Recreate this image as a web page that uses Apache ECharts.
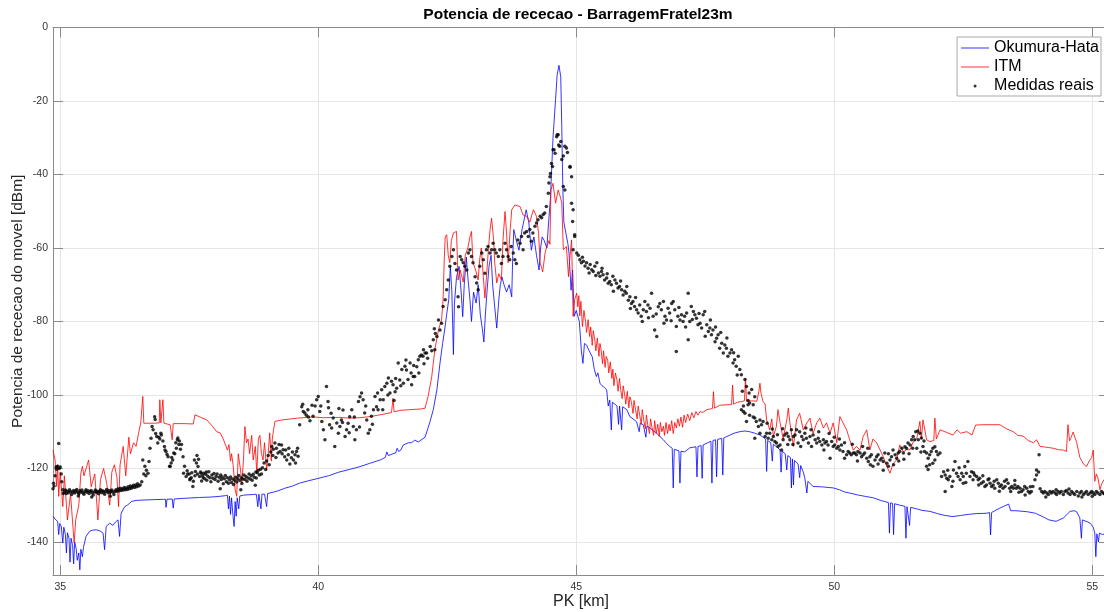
<!DOCTYPE html>
<html><head><meta charset="utf-8">
<script src="https://cdn.jsdelivr.net/npm/echarts@6/dist/echarts.min.js"></script>
<style>html,body{margin:0;padding:0;background:#fff}#c{width:1104px;height:612px}</style>
</head><body><div id="c"></div>
<script>
const titleText = 'Potencia de rececao - BarragemFratel23m';
const xName = 'PK [km]';
const yName = 'Potencia de rececao do movel [dBm]';
const seriesNames = ['Okumura-Hata', 'ITM', 'Medidas reais'];
const xTicks = [35, 40, 45, 50, 55];
const yTicks = [-140, -120, -100, -80, -60, -40, -20, 0];

const okumuraHata = [
[34.86,-133],[34.9,-133.8],[34.95,-134.4],[34.97,-138],[34.99,-135],[35.02,-135.7],[35.05,-140.3],[35.07,-136],[35.1,-138],[35.12,-143],[35.14,-137.5],[35.17,-139],[35.19,-145.5],[35.21,-139],[35.24,-141],[35.26,-146],[35.28,-140],[35.31,-142],[35.33,-145],[35.36,-143],[35.38,-147.6],[35.4,-142],[35.43,-144],[35.45,-141.5],[35.47,-141.3],[35.5,-138.5],[35.57,-137.1],[35.63,-136.8],[35.7,-136.7],[35.77,-137],[35.83,-137.6],[35.86,-142.1],[35.89,-135.8],[35.96,-134.9],[36.02,-135.5],[36.07,-134.6],[36.12,-134],[36.15,-138.5],[36.18,-132.2],[36.25,-130.4],[36.31,-129.9],[36.38,-129],[36.47,-128.7],[36.6,-128.6],[36.8,-128.5],[37.0,-128.4],[37.04,-128.4],[37.05,-130.6],[37.07,-128.4],[37.17,-128.3],[37.19,-130.8],[37.21,-128.3],[37.44,-128.1],[37.7,-127.9],[37.9,-127.8],[38.09,-127.6],[38.2,-127.4],[38.24,-127.3],
[38.26,-131],[38.28,-127.5],[38.3,-132.5],[38.32,-128],[38.35,-133.1],[38.37,-135.8],[38.39,-129],[38.41,-133],[38.43,-128],[38.46,-131],[38.48,-127.5],[38.55,-127.3],[38.6,-127.2],[38.75,-127.1],[38.8,-127],[38.83,-130.4],[38.85,-127],[38.89,-131],[38.91,-127],[38.96,-127],[39.0,-130.4],[39.02,-126.8],[39.06,-126.7],[39.2,-126.2],[39.35,-125.4],[39.5,-124.8],[39.64,-124],[39.8,-123.4],[40.0,-122.7],[40.2,-122],[40.4,-121],[40.6,-120.3],[40.81,-119.5],[41.0,-118.6],[41.2,-117.7],[41.3,-117],[41.33,-115.5],[41.36,-116.5],[41.45,-116],[41.5,-115.8],[41.53,-114.5],[41.56,-115.4],[41.6,-115],[41.65,-113.6],[41.68,-113.8],[41.75,-113],[41.81,-113],[41.87,-112.3],[41.94,-112.8],
[41.97,-113],[42.07,-111.5],[42.16,-107.6],[42.23,-104],[42.3,-98.6],[42.36,-91.3],[42.41,-86],[42.45,-82.3],[42.49,-78],[42.53,-74],[42.56,-65],[42.59,-72],[42.62,-89],[42.64,-75],[42.68,-68],[42.73,-65],[42.77,-72],[42.8,-78.7],[42.83,-70],[42.87,-62.5],[42.9,-68],[42.94,-74],[42.97,-80],[43.01,-72],[43.06,-75],[43.1,-70],[43.14,-78],[43.18,-82],[43.21,-85.6],[43.24,-78],[43.27,-72],[43.31,-65],[43.35,-62],[43.38,-70],[43.42,-76],[43.46,-81.8],[43.5,-74],[43.53,-70],[43.56,-67.9],[43.6,-70],[43.65,-72],[43.7,-70],[43.75,-73.3],[43.77,-62],[43.79,-55],[43.84,-58],[43.89,-60.6],[43.95,-55],[44.03,-49.6],[44.08,-53],[44.13,-60.6],[44.18,-57],[44.23,-62],[44.28,-66],[44.31,-60],[44.34,-57],[44.38,-58],[44.43,-60],[44.47,-52],[44.5,-46.5],[44.55,-30],[44.6,-19.5],[44.63,-13],[44.665,-10.3],[44.7,-13.4],[44.72,-27],[44.74,-43.3],[44.76,-53],[44.8,-56],[44.84,-59],[44.86,-61.4],[44.9,-71.5],[44.93,-66],[44.96,-78.6],
[45.0,-77],[45.03,-77],[45.06,-80],[45.1,-88],[45.13,-91.4],[45.16,-86],[45.2,-86.4],[45.25,-88],[45.31,-89.6],[45.35,-93],[45.39,-95],[45.42,-94],[45.46,-96.8],[45.5,-97.5],[45.55,-98],[45.59,-98.6],[45.62,-103],[45.65,-101.4],[45.68,-109.5],[45.7,-102],[45.75,-102.5],[45.79,-103],[45.82,-108],[45.84,-103],[45.88,-109.5],[45.9,-103.2],[45.98,-104],[46.04,-105.9],[46.1,-106.5],[46.17,-107.3],[46.22,-110],[46.24,-107.7],[46.3,-108.1],[46.35,-111.5],[46.37,-108.5],[46.43,-109],[46.5,-109.8],[46.56,-110.4],[46.62,-111.3],[46.69,-112.2],[46.75,-113.2],[46.81,-114],[46.86,-114.5],[46.88,-125.3],[46.9,-114.8],[46.99,-115.2],[47.01,-124],[47.03,-115.3],[47.1,-115.5],[47.2,-114.4],[47.32,-114.1],[47.34,-122.3],[47.36,-114],[47.42,-113.8],[47.44,-122.7],[47.46,-113.6],[47.55,-113],[47.61,-112.6],[47.63,-124],[47.65,-112.4],[47.7,-112.2],[47.72,-122.3],[47.74,-112.1],[47.82,-111.8],[47.84,-121.8],[47.86,-111.7],[47.98,-110.9],[48.08,-110.3],[48.17,-110],[48.27,-109.8],[48.36,-110],[48.46,-110.4],[48.56,-110.9],[48.62,-111.5],[48.67,-112],[48.69,-120.8],[48.71,-112.4],[48.77,-113],[48.8,-118],[48.82,-113.4],[48.9,-114.3],[48.95,-115],[48.97,-121],[48.99,-115.3],[49.05,-116],[49.08,-120.4],[49.1,-116.5],[49.15,-117],[49.17,-125.3],[49.19,-117.4],[49.21,-124.5],[49.23,-117.8],[49.3,-118.8],[49.33,-122.5],[49.35,-119.2],[49.4,-121],[49.43,-122.6],[49.45,-122.7],[49.47,-126.7],[49.49,-123.5],[49.59,-124.9],[49.75,-125],[49.98,-125.3],[50.1,-125.8],[50.2,-126.4],[50.3,-126.7],[50.45,-127.2],[50.6,-127.6],[50.76,-128],[50.9,-128.7],[51.0,-129.1],[51.05,-129.3],[51.07,-137.6],[51.09,-129.4],[51.13,-129.5],[51.15,-138],[51.17,-129.6],[51.27,-130],[51.37,-130.3],[51.39,-139],[51.41,-130.4],[51.44,-130.5],[51.46,-135.5],[51.48,-130.6],[51.6,-131],[51.7,-131.4],[51.86,-131.7],[52.0,-132.3],[52.15,-132.8],[52.3,-133.1],[52.45,-132.8],[52.6,-132.5],[52.75,-132.3],[52.95,-132.2],[53.01,-132],[53.03,-138.1],[53.05,-132],[53.1,-131.6],[53.21,-130.8],[53.3,-130.2],[53.38,-129.7],[53.4,-129.4],[53.42,-131.5],[53.5,-131.5],[53.6,-131.6],[53.75,-131.8],[53.9,-132.2],[54.05,-133.2],[54.16,-134],[54.3,-134.4],[54.44,-133.5],[54.57,-131.7],[54.65,-131.5],[54.7,-131.8],[54.76,-133.5],[54.79,-139],[54.81,-134],[54.9,-134.5],[54.96,-134.9],[55.02,-136],[55.05,-137.6],[55.07,-144],[55.09,-137.8],[55.12,-140],[55.14,-137.6],[55.2,-138],[55.32,-137.5]
];

const itm = [
[34.86,-115],[34.9,-117.7],[34.93,-124.9],[34.95,-119],[34.97,-127.6],[35.0,-121],[35.05,-130.4],[35.08,-122],[35.14,-134],[35.2,-127],[35.27,-140.3],[35.3,-134],[35.36,-130],[35.4,-121.3],[35.43,-119.4],[35.46,-122],[35.55,-117.7],[35.6,-125],[35.67,-121.5],[35.73,-134],[35.78,-123],[35.84,-120],[35.9,-124],[35.96,-130],[36.0,-121],[36.05,-119],[36.1,-122.5],[36.13,-130.4],[36.16,-119],[36.22,-114],[36.27,-122],[36.33,-111.5],[36.36,-116],[36.42,-113],[36.47,-114],[36.52,-110.3],[36.56,-107.6],[36.6,-100.4],[36.62,-107.7],[36.8,-107.7],[36.92,-107.6],[36.93,-101.3],[36.95,-107.6],[36.97,-107.6],[36.99,-101.3],[37.01,-107.7],[37.13,-108.1],[37.17,-112.2],[37.19,-107.8],[37.4,-107.8],[37.58,-107.9],[37.61,-105.4],[37.84,-106.8],[37.95,-108.5],[38.03,-110],[38.1,-110.3],[38.16,-112],
[38.19,-112.2],[38.24,-115],[38.27,-113.5],[38.3,-118],[38.32,-116],[38.35,-119],[38.39,-125.8],[38.42,-127.6],[38.45,-116],[38.48,-115.8],[38.5,-121],[38.52,-124],[38.55,-118],[38.58,-108.6],[38.61,-113],[38.64,-112],[38.67,-116],[38.71,-111],[38.74,-117.7],[38.78,-114],[38.81,-121.3],[38.84,-112],[38.87,-111],[38.9,-116],[38.93,-117.7],[38.96,-113],[39.0,-120.5],[39.03,-116],[39.06,-110.3],[39.09,-118],[39.11,-112],[39.13,-110],[39.16,-107.2],[39.3,-106.8],[39.6,-106.3],[39.9,-106],[40.1,-106.2],[40.4,-106.1],[40.6,-106.3],[40.8,-106.2],[41.0,-105.9],[41.2,-105.4],[41.42,-104.8],[41.45,-100.9],[41.47,-104.6],[41.58,-104.2],[41.78,-104],[42.0,-103.8],[42.07,-103.6],[42.13,-100.4],[42.2,-95],[42.26,-87.7],[42.33,-82.3],[42.39,-79.6],[42.42,-74],
[42.44,-64],[42.46,-57],[42.49,-56.4],[42.52,-62],[42.55,-64],[42.58,-58],[42.62,-55.9],[42.65,-56],[42.68,-55.5],[42.71,-68.7],[42.75,-66],[42.81,-69.3],[42.85,-62],[42.9,-60],[42.94,-57],[42.97,-55.5],[43.0,-64],[43.05,-66],[43.1,-68.7],[43.13,-63],[43.16,-60],[43.2,-68],[43.23,-73.6],[43.26,-68],[43.3,-60],[43.33,-55],[43.36,-51.9],[43.4,-58],[43.42,-64],[43.46,-69.5],[43.5,-67],[43.55,-68.7],[43.58,-58],[43.62,-50.1],[43.65,-56],[43.68,-64],[43.72,-55],[43.75,-49.6],[43.81,-48.3],[43.86,-48.5],[43.91,-48.7],[43.97,-51],[44.04,-51.4],[44.1,-53],[44.17,-49.6],[44.23,-51.4],[44.27,-56],[44.3,-64],[44.35,-66.5],[44.4,-61],[44.43,-60.5],[44.47,-58],[44.49,-59],[44.51,-44.2],[44.55,-42.4],[44.6,-47.8],[44.65,-44.2],[44.69,-46],[44.72,-47.8],[44.75,-60.5],[44.78,-60],[44.81,-59.6],[44.85,-67.8],[44.88,-62],[44.91,-57.8],[44.94,-78.6],[44.97,-74],
[45.01,-72.3],[45.03,-76],[45.05,-73],[45.07,-78.5],[45.09,-74.5],[45.12,-81.4],[45.15,-77],[45.18,-80],[45.2,-83],[45.23,-79.5],[45.26,-84.1],[45.28,-81.5],[45.31,-86.5],[45.33,-82.5],[45.36,-85],[45.38,-88],[45.41,-84.5],[45.44,-89.5],[45.46,-86],[45.48,-87.5],[45.51,-91.5],[45.53,-88],[45.56,-92.5],[45.58,-89.5],[45.61,-90.5],[45.63,-94],[45.66,-91],[45.69,-95.5],[45.71,-93],[45.73,-97.5],[45.76,-94],[45.79,-96],[45.81,-99],[45.84,-95.5],[45.86,-98.5],[45.89,-101],[45.91,-97.5],[45.94,-100],[45.96,-102.5],[45.99,-99],[46.02,-103.5],[46.04,-100.5],[46.07,-102],[46.1,-105],[46.12,-101.5],[46.15,-104],[46.18,-106.5],[46.2,-103],[46.23,-105.5],[46.26,-108],[46.28,-104],[46.31,-107],[46.34,-109.2],[46.36,-105.5],[46.39,-108.5],[46.42,-110.5],[46.44,-106.5],[46.47,-109],[46.5,-111],[46.52,-107],[46.55,-110.5],[46.58,-108],[46.61,-111.3],[46.63,-107.5],[46.66,-110],[46.69,-108.5],[46.71,-111],[46.74,-107.5],[46.77,-110.5],[46.8,-108],[46.82,-109.8],[46.85,-107],[46.88,-110.5],[46.91,-107.5],[46.94,-109],[46.97,-106.5],[47.0,-108.5],[47.03,-106],[47.06,-108.8],[47.09,-105.5],[47.12,-107.5],[47.16,-105.2],[47.2,-107],[47.24,-104.8],[47.28,-106.2],[47.32,-104.5],[47.36,-105.5],[47.4,-104.5],[47.45,-104.8],[47.53,-104],[47.6,-103.8],[47.64,-103.7],[47.66,-99.1],[47.68,-103.6],[47.78,-102.8],[47.9,-102.7],[48.01,-102.6],[48.03,-97.3],[48.05,-102.5],[48.12,-102],[48.2,-101.8],[48.26,-101.6],[48.28,-95.4],[48.3,-101.7],[48.4,-101.6],[48.5,-101.7],[48.54,-99],[48.56,-96.8],[48.58,-99.5],[48.62,-101.8],[48.66,-102.5],
[48.69,-106.8],[48.75,-109.5],[48.79,-106.5],[48.82,-111.3],[48.88,-108.5],[48.91,-104],[48.95,-107.5],[49.01,-112],[49.08,-106.8],[49.11,-103.6],[49.14,-107.5],[49.21,-114],[49.27,-106.8],[49.33,-105],[49.4,-109.5],[49.47,-107.6],[49.53,-106.3],[49.59,-110.5],[49.66,-107.6],[49.72,-106.3],[49.79,-109],[49.85,-107.6],[49.92,-110.4],[49.98,-107.6],[50.05,-113],[50.11,-105.9],[50.17,-107.6],[50.24,-109.5],[50.3,-112.2],[50.37,-115],[50.43,-114],[50.5,-115],[50.56,-111.3],[50.63,-109.5],[50.69,-115],[50.75,-112],[50.82,-113],[50.89,-115],[50.95,-116.8],[51.02,-119.5],[51.08,-121.3],[51.14,-118.7],[51.21,-117.7],[51.27,-113.6],[51.34,-115.5],[51.4,-114.9],[51.47,-114.9],[51.53,-112.8],[51.6,-111.9],[51.66,-107.2],[51.69,-112],[51.72,-106.8],[51.79,-112.2],[51.85,-112.7],[51.93,-112.4],[51.95,-106.3],[51.98,-112],[52.05,-109.5],[52.18,-110.2],[52.3,-110.9],[52.38,-109.5],[52.45,-110.4],[52.57,-110],[52.67,-110.9],[52.74,-108.2],[52.87,-108.1],[53.0,-108.1],[53.21,-108.1],[53.35,-109.3],[53.47,-110],[53.56,-111],[53.66,-111.2],[53.76,-112.4],[53.86,-113],[53.92,-112.2],[53.99,-114],[54.1,-114.2],[54.24,-114.5],[54.35,-114.9],[54.44,-115],[54.5,-115.4],[54.53,-108.1],[54.56,-112.5],[54.59,-111.6],[54.63,-110.1],[54.7,-113],[54.76,-117],[54.83,-118.8],[54.89,-119.5],[54.94,-118],[54.99,-117],[55.02,-115],[55.05,-123.5],[55.08,-121.5],[55.11,-122.5],[55.15,-125.8],[55.18,-124.3],[55.23,-123],[55.32,-124]
];

const medidas = [
[34.86,-125.5],[34.87,-124],[34.88,-124.8],[34.9,-122],[34.92,-119.6],[34.93,-120.2],[34.95,-119.4],[34.97,-113.2],[34.98,-120],[35.0,-119.6],[35.02,-121.5],[35.03,-123.6],[35.05,-125.8],[35.06,-126.8],
[35.08,-126.4],[35.1,-125.9],[35.12,-126.8],[35.14,-126.2],[35.16,-126.6],[35.18,-125.8],[35.2,-126.3],[35.22,-127.1],[35.24,-126.5],[35.26,-126],[35.28,-126.7],[35.3,-126.2],[35.32,-125.7],[35.34,-126.5],[35.35,-127.5],[35.36,-126.9],[35.38,-126.1],[35.4,-126.4],[35.42,-125.9],[35.44,-126.6],[35.46,-127],[35.48,-126.3],[35.5,-125.8],[35.52,-126.5],[35.54,-126.1],[35.56,-126.8],[35.58,-126.3],[35.6,-126],[35.61,-127.8],[35.62,-126.6],[35.64,-127.2],[35.66,-126.4],[35.68,-125.9],[35.7,-126.5],[35.72,-126.2],[35.74,-126.9],[35.76,-126.3],[35.78,-125.8],[35.8,-126.6],[35.82,-126.1],[35.84,-126.4],[35.86,-127],[35.88,-126.2],[35.9,-125.7],[35.92,-126.5],[35.94,-126],[35.96,-126.7],[35.97,-127.6],[35.98,-126.2],[36.0,-125.9],[36.02,-126.4],[36.04,-127.1],[36.06,-126.3],[36.08,-125.8],[36.1,-126.2],[36.12,-125.6],[36.14,-126.1],[36.16,-125.4],[36.18,-126],[36.2,-125.5],[36.22,-125.9],[36.24,-125.2],[36.26,-125.8],[36.28,-125.3],[36.3,-125.7],[36.32,-125],[36.34,-125.5],[36.36,-124.8],[36.38,-125.4],[36.4,-125],[36.42,-124.6],[36.44,-125.2],[36.46,-124.5],[36.48,-125],[36.5,-124.2],[36.52,-124.8],
[36.55,-124.5],[36.58,-123.6],[36.6,-117.7],[36.62,-121.5],[36.64,-119.4],[36.66,-122],[36.67,-120.5],[36.7,-121.3],[36.72,-118.1],[36.74,-114.5],[36.76,-111.8],[36.78,-108.6],[36.8,-109.5],[36.83,-105.9],[36.84,-106.7],[36.85,-110.5],[36.87,-111.3],[36.89,-113.1],[36.91,-111.5],[36.93,-112],[36.95,-110.4],[36.96,-110.9],[36.99,-112.5],[37.02,-114],[37.03,-115],[37.05,-115.4],[37.07,-116.2],[37.09,-116.8],[37.12,-119.4],[37.13,-119.5],[37.15,-118.5],[37.16,-117],[37.18,-117.7],[37.2,-115.8],[37.22,-116],[37.24,-113],[37.25,-114.5],[37.27,-112.2],[37.28,-111.7],[37.3,-113.5],[37.31,-112.5],[37.33,-114.8],[37.35,-113.5],[37.38,-116.8],[37.39,-121.3],[37.41,-119.4],[37.44,-122.2],[37.46,-120.6],[37.47,-121.5],[37.5,-121.5],[37.51,-123.1],[37.52,-122.8],[37.54,-122.5],[37.55,-121.2],[37.57,-124.9],[37.58,-123.5],[37.6,-117.7],[37.61,-122],[37.62,-120.8],[37.64,-118.5],[37.65,-116.5],[37.66,-121.5],[37.67,-119.5],[37.68,-117.5],[37.7,-122.2],[37.72,-121],[37.73,-121.3],[37.74,-123.4],[37.76,-122],[37.77,-122.5],[37.78,-121.3],[37.8,-122.8],[37.82,-121.6],[37.83,-121],[37.84,-123.2],[37.86,-122.1],[37.88,-120.9],[37.9,-122.5],[37.92,-123.6],[37.94,-121.8],[37.96,-122.7],[37.98,-121.4],[38.0,-123],[38.02,-122.2],[38.04,-121.5],[38.06,-123.5],[38.08,-122.4],[38.1,-125.5],[38.11,-121.8],[38.12,-123],[38.14,-122.3],[38.16,-124.2],[38.18,-122.8],[38.2,-121.9],[38.22,-123.6],[38.24,-122.5],[38.26,-124],[38.28,-123.1],[38.3,-122.3],[38.32,-123.8],[38.34,-122.9],[38.36,-124.4],[38.38,-123.2],[38.4,-122.4],[38.42,-123.7],[38.44,-122.8],[38.46,-121.9],[38.48,-123.3],[38.5,-125.8],[38.51,-122.5],[38.52,-124.1],[38.54,-122.9],[38.56,-121.8],[38.58,-123],[38.6,-122.2],[38.62,-123.5],[38.64,-122.6],[38.66,-121.5],[38.68,-122.9],[38.7,-122],[38.72,-123.2],[38.74,-121.6],[38.76,-122.4],[38.78,-124.6],[38.79,-121],[38.8,-122.6],[38.82,-121.2],[38.84,-120.5],[38.86,-121.8],[38.88,-120.2],[38.9,-121.5],
[38.92,-119.8],[38.95,-118.5],[38.98,-120.3],[39.0,-118],[39.03,-116.5],[39.05,-119],[39.08,-115.5],[39.1,-114],[39.12,-116.5],[39.13,-114.8],[39.16,-113.1],[39.18,-117],[39.19,-114.5],[39.22,-115.8],[39.24,-113.5],[39.26,-115.4],[39.29,-113.6],[39.3,-116],[39.32,-114.9],[39.35,-116.8],[39.37,-115],[39.39,-117.7],[39.42,-116.3],[39.43,-114.5],[39.45,-118.8],[39.48,-117.1],[39.5,-115.5],[39.52,-117.7],[39.55,-116.3],[39.56,-118.5],[39.58,-115.4],[39.6,-114.5],[39.61,-116.7],
[39.64,-108.1],[39.68,-103.2],[39.7,-102.5],[39.71,-104.5],[39.74,-104.9],[39.77,-105.5],[39.8,-104],[39.81,-106],[39.84,-107],[39.88,-102.8],[39.9,-105.8],[39.94,-103],[39.97,-101.3],[40.0,-100.4],[40.03,-104.5],[40.05,-103],[40.07,-107.2],[40.1,-109.5],[40.13,-112.2],[40.16,-97.7],[40.19,-101.8],[40.2,-103.5],[40.22,-108.1],[40.25,-105],[40.26,-109],[40.29,-106.3],[40.32,-114],[40.36,-107.6],[40.39,-110.4],[40.4,-103.7],[40.42,-108.6],[40.45,-106.8],[40.47,-107.5],[40.48,-104.1],[40.52,-111.3],[40.55,-109.5],[40.58,-107.7],[40.6,-110.3],[40.61,-105.9],[40.65,-104],[40.68,-108.6],[40.7,-106],[40.71,-112.2],[40.74,-109.5],[40.78,-101.8],[40.8,-108.7],[40.81,-100.5],[40.84,-99.5],[40.87,-101.3],[40.9,-104.9],[40.92,-103],[40.94,-106.8],[40.97,-110.4],[41.0,-109.5],[41.03,-105.8],[41.05,-108],[41.07,-104],[41.1,-100.4],[41.13,-103.2],[41.15,-99.5],[41.16,-104],[41.2,-101.3],[41.23,-98.6],[41.25,-104],[41.26,-101.3],[41.29,-97.7],[41.33,-96.8],[41.35,-100],[41.36,-95.4],[41.39,-99.5],[41.42,-96.3],[41.45,-97.2],[41.47,-101.5],[41.49,-99.1],[41.5,-95.5],[41.52,-98.2],[41.55,-91.3],[41.58,-95.9],[41.6,-97.5],[41.62,-93.1],[41.65,-96.8],[41.68,-92.2],[41.7,-90.5],[41.71,-93.2],[41.74,-95.8],[41.78,-91.3],[41.8,-94],[41.81,-97.2],[41.84,-95],[41.85,-92],[41.87,-95],[41.91,-92.3],[41.94,-90.4],[41.95,-94],[41.97,-89.5],[42.0,-89.1],[42.03,-89.5],[42.04,-87.7],[42.05,-91.5],[42.07,-88.6],[42.1,-88.6],[42.12,-90],[42.17,-86.8],[42.2,-88],[42.23,-85],[42.25,-82],[42.26,-87.7],[42.27,-83.3],[42.3,-84.1],[42.33,-79.6],[42.36,-82.3],[42.39,-80.5],[42.42,-75.9],[42.46,-74.1],
[42.49,-71.4],[42.52,-68.7],[42.55,-65],[42.59,-62.3],[42.62,-60.5],[42.65,-64.2],[42.68,-66],[42.71,-73.3],[42.72,-76],[42.75,-62.3],[42.78,-63.2],[42.81,-64],[42.84,-65],[42.88,-66],[42.91,-61.4],[42.94,-60.5],[42.97,-62.3],[43.0,-64],[43.04,-67.8],[43.07,-69.5],[43.1,-71.4],[43.13,-65],[43.17,-61.4],[43.2,-63.2],[43.23,-66.9],[43.26,-60.5],[43.29,-59.6],[43.33,-61.4],[43.36,-60.5],[43.39,-58.7],[43.42,-60.5],[43.45,-61.4],[43.49,-62.3],[43.52,-60.5],[43.55,-64.2],[43.58,-62.3],[43.62,-58.7],[43.65,-60.5],[43.68,-62.3],[43.71,-63.2],[43.74,-59.6],[43.78,-61.4],[43.81,-63.2],[43.84,-64.2],[43.87,-57.8],[43.91,-58.7],[43.94,-56.9],[43.97,-60.5],[44.0,-55.9],[44.04,-55.5],[44.07,-56.9],[44.1,-55],[44.13,-58.2],[44.16,-55.9],[44.2,-54.1],[44.23,-53.2],[44.26,-52.3],[44.3,-51.4],[44.33,-51.8],[44.36,-50.9],[44.39,-50.5],[44.42,-48.7],[44.46,-45.1],[44.47,-42.3],[44.49,-40.6],[44.5,-39.7],[44.52,-37],[44.54,-37.8],[44.55,-33.3],[44.57,-33.3],[44.59,-34.2],[44.62,-29.7],[44.63,-29.2],[44.65,-29.2],[44.66,-32],[44.68,-32.3],[44.7,-31],[44.72,-35.9],[44.75,-35],[44.75,-43.3],[44.78,-32.3],[44.78,-44.2],[44.81,-32.8],[44.83,-34],[44.88,-37.8],[44.88,-38],[44.91,-40.6],[44.91,-47.8],[44.93,-52.8],[44.94,-49.6],[44.97,-56.9],
[44.94,-60.5],[44.97,-56.4],[45.01,-61.4],[45.04,-62],[45.07,-63.2],[45.1,-64],[45.12,-62.5],[45.14,-63.6],[45.17,-64.9],[45.2,-64],[45.23,-65.5],[45.25,-66.8],[45.27,-64.5],[45.3,-65.9],[45.33,-66.4],[45.36,-65],[45.38,-67.5],[45.4,-64],[45.43,-66.8],[45.46,-67.7],[45.49,-66.4],[45.5,-65.5],[45.52,-67.3],[45.55,-68.7],[45.59,-68.2],[45.6,-67],[45.62,-69.6],[45.65,-69.1],[45.68,-70],[45.71,-67.7],[45.72,-71.8],[45.75,-68.7],[45.78,-69.6],[45.81,-70.9],[45.84,-70.5],[45.86,-69],[45.88,-71.4],[45.91,-72.8],[45.94,-71.8],[45.97,-72.3],[45.98,-70.5],[46.01,-74.2],[46.04,-73.3],[46.05,-76.5],[46.07,-75.1],[46.1,-74.6],[46.13,-75.9],[46.15,-73.5],[46.17,-76.8],[46.2,-77.7],[46.23,-75.5],[46.26,-78.6],[46.28,-80],[46.3,-76.8],[46.33,-74.6],[46.36,-77.3],[46.39,-75.5],[46.4,-79],[46.43,-76.4],[46.46,-72.3],[46.49,-78.6],[46.52,-82.3],[46.55,-78],[46.56,-84.1],[46.59,-76],[46.62,-75.1],[46.65,-76.8],[46.69,-74.6],[46.7,-80.5],[46.72,-78.6],[46.75,-79.6],[46.78,-76.4],[46.81,-77.7],[46.84,-79.8],[46.85,-75.1],[46.88,-74.6],[46.91,-76.8],[46.94,-81.4],[46.94,-88.2],[46.97,-78.6],[46.99,-76.2],[47.01,-79.6],[47.04,-78.2],[47.07,-80],[47.1,-78.6],[47.12,-81.5],[47.14,-77.7],[47.17,-85],[47.17,-72.3],[47.2,-80],[47.23,-75.9],[47.25,-79.5],[47.27,-77.3],[47.3,-78.2],[47.33,-79.1],[47.36,-80.9],[47.38,-77.8],[47.4,-80.5],[47.43,-81.8],[47.46,-78.2],[47.49,-77.3],[47.5,-84],[47.53,-80.9],[47.56,-82.7],[47.59,-81.8],[47.6,-79.6],[47.62,-83.6],[47.65,-82.3],[47.69,-85.5],[47.7,-81.5],[47.72,-84.6],[47.75,-83.6],[47.78,-87.3],[47.8,-83],[47.82,-85.9],[47.85,-88.6],[47.88,-86.4],[47.91,-87.3],[47.92,-84.5],[47.94,-89.5],[47.98,-88.6],[48.01,-87.7],[48.04,-91.3],[48.05,-88.5],[48.07,-90.4],[48.1,-92.2],[48.12,-94.6],[48.14,-89.5],[48.17,-93.1],[48.2,-94.5],[48.22,-99],[48.27,-95.8],[48.3,-97.7],[48.33,-101.5],[48.35,-99.5],[48.24,-104.5],[48.27,-105],[48.3,-107.2],[48.36,-105.5],[48.43,-102.7],[48.46,-106.3],[48.49,-107.2],[48.46,-111.8],
[48.2,-104],[48.24,-103],[48.33,-102.7],[48.36,-102.2],[48.4,-98.5],[48.43,-106],[48.46,-100.5],[48.53,-108.6],[48.56,-106.8],[48.56,-110.4],[48.59,-108.1],[48.62,-107.2],[48.66,-111.3],[48.69,-110.4],[48.7,-107.7],[48.72,-111.8],[48.75,-110.4],[48.79,-112.2],[48.8,-109.3],[48.82,-111.3],[48.85,-112.7],[48.88,-113.1],[48.9,-110.8],[48.91,-114],[48.95,-113.6],[48.98,-115],[49.0,-109.2],[49.01,-112.2],[49.04,-110.9],[49.08,-110.4],[49.1,-113.5],[49.11,-111.3],[49.14,-112.2],[49.17,-109.5],[49.2,-113.5],[49.21,-111.3],[49.24,-110.9],[49.27,-109.5],[49.3,-113.1],[49.33,-110],[49.35,-114],[49.37,-111.3],[49.4,-112.2],[49.43,-110.4],[49.45,-109],[49.46,-111.8],[49.5,-113.1],[49.53,-111.3],[49.55,-109.5],[49.56,-114],[49.59,-110.9],[49.63,-112.2],[49.66,-113.1],[49.69,-111.8],[49.7,-110],[49.72,-112.7],[49.76,-113.6],[49.79,-112.2],[49.8,-115],[49.82,-113.1],[49.85,-112.7],[49.88,-113.6],[49.9,-110.5],[49.92,-117.2],[49.95,-112.7],[49.98,-114],[50.0,-111.5],[50.01,-113.6],[50.05,-114.5],[50.08,-114],[50.1,-112],[50.11,-115],[50.14,-113.6],[50.17,-115.4],[50.2,-117.2],[50.2,-113],[50.24,-116.3],[50.27,-115.4],[50.3,-115.8],[50.33,-116.3],[50.35,-113.4],[50.37,-115.8],[50.4,-115.8],[50.43,-116.3],[50.45,-118],[50.46,-115.4],[50.5,-115.8],[50.53,-116.8],[50.55,-114],[50.56,-116.3],[50.59,-115.8],[50.63,-117.2],[50.65,-114.5],[50.66,-118.1],[50.69,-116.8],[50.7,-119],[50.72,-116.3],[50.75,-119.4],[50.79,-117.7],[50.82,-116.8],[50.85,-116.3],[50.85,-118.8],[50.89,-117.7],[50.92,-117.2],[50.95,-118.1],[50.95,-120.5],[50.98,-115.8],[51.02,-118.6],[51.05,-119.4],[51.05,-116],[51.08,-117.7],[51.11,-116.8],[51.14,-115],[51.15,-119],[51.18,-116.3],[51.21,-117.2],[51.24,-115.8],[51.25,-118],[51.27,-115.4],[51.31,-114.5],[51.34,-115.8],[51.35,-117.5],[51.37,-114.1],[51.4,-114.5],[51.43,-113.1],[51.45,-116],[51.47,-113.6],[51.5,-112.2],[51.52,-114.5],[51.53,-111.3],[51.56,-112.2],[51.58,-110],[51.6,-114.5],[51.62,-109.8],[51.63,-112.2],[51.66,-110.4],[51.68,-115.5],[51.69,-111.7],[51.72,-114],[51.74,-112.5],[51.75,-115.4],[51.79,-115.8],[51.79,-119.4],[51.82,-117.2],[51.82,-120.3],[51.85,-116.3],[51.85,-119],[51.88,-115.4],[51.91,-114.5],[51.91,-118.6],[51.95,-114.1],[51.95,-117.7],[51.98,-115.4],[52.01,-116.3],[52.05,-115.8],
[52.08,-122.2],[52.12,-120.9],[52.15,-121.8],[52.15,-126.3],[52.18,-122.7],[52.2,-120.5],[52.21,-123.1],[52.24,-122.2],[52.28,-124.9],[52.3,-123.5],[52.31,-120.4],[52.34,-118.1],[52.37,-121.3],[52.4,-122.2],[52.42,-119.8],[52.44,-123.1],[52.47,-121.3],[52.5,-122.2],[52.5,-124],[52.53,-119.5],[52.55,-123.8],[52.56,-121.3],[52.59,-118.1],[52.63,-122.2],[52.66,-120.9],[52.69,-123.1],[52.7,-121.2],[52.72,-121.8],[52.76,-122.2],[52.79,-123.1],[52.8,-124.5],[52.82,-122.7],[52.85,-124],[52.88,-122],[52.89,-123.6],[52.92,-124.9],[52.95,-124.5],[52.98,-123.1],[53.0,-122.8],[53.02,-124],[53.05,-124.9],[53.08,-124.5],[53.1,-123.5],[53.11,-125.4],[53.15,-123.1],[53.18,-124],[53.2,-126.2],[53.21,-124.9],[53.24,-124.5],[53.27,-125.4],[53.3,-123.5],[53.31,-124.9],[53.34,-123.1],[53.37,-124],[53.4,-125.4],[53.42,-126.3],[53.44,-124.9],[53.47,-125.4],[53.5,-124.5],[53.5,-123.3],[53.53,-125.4],[53.56,-124.9],[53.58,-126.5],[53.6,-125.4],[53.63,-126.3],[53.66,-125.8],[53.69,-124.9],[53.7,-127.2],[53.73,-125.4],[53.76,-126.3],[53.79,-126.7],[53.8,-125],[53.82,-126.3],[53.85,-124.9],[53.89,-123.1],[53.92,-121.8],[53.92,-120.4],[53.96,-121],[53.97,-116.3],[53.99,-125.5],[54.02,-126.3],[54.05,-126.7],[54.08,-126.3],[54.1,-127.8],[54.12,-126.7],[54.15,-127.1],[54.18,-126.3],[54.21,-126.7],[54.24,-126.3],[54.28,-126.7],[54.3,-125.8],[54.31,-127.1],[54.34,-126.3],[54.37,-126.7],[54.4,-126.3],[54.44,-127.1],[54.47,-126.3],[54.5,-126],[54.53,-126.7],[54.55,-125.6],[54.57,-127.1],[54.6,-126.3],[54.63,-126.7],[54.66,-127.1],[54.7,-126.3],[54.73,-127.5],[54.76,-126.7],[54.79,-126.3],[54.8,-127.8],[54.83,-127.1],[54.86,-126.7],[54.89,-126.3],[54.92,-127.1],[54.96,-126.7],[54.99,-126.3],[55.0,-127.6],[55.02,-126.7],[55.05,-127.1],[55.08,-126.3],[55.11,-126.7],[55.15,-127.1],[55.18,-126.3],[55.21,-126.7],[55.24,-126.9],[55.28,-126.4],[55.31,-126.8]
];

const FONT = '"Liberation Sans", Arial, Helvetica, sans-serif';
const AX = '#8a8a8a';
const GRIDC = '#e6e6e6';
const xMin = 34.86, xMax = 55.325, yMin = -149, yMax = 0;

const chart = echarts.init(document.getElementById('c'), null, {renderer: 'canvas'});
function xAxisDef(pos, main) {
  return {
    type: 'value', position: pos, min: xMin, max: xMax,
    axisLine: {show: true, onZero: false, lineStyle: {color: AX, width: 1}},
    axisTick: {show: true, inside: true, length: 10, customValues: xTicks, lineStyle: {color: AX}},
    axisLabel: main ? {show: true, customValues: xTicks, color: '#333', fontSize: 10.5, margin: 7, fontFamily: FONT} : {show: false},
    splitLine: {show: main, lineStyle: {color: GRIDC, width: 1}},
    name: main ? xName : '', nameLocation: 'middle', nameGap: 19, nameMoveOverlap: false,
    nameTextStyle: {fontSize: 16, color: '#262626', fontFamily: FONT}
  };
}
function yAxisDef(pos, main) {
  return {
    type: 'value', position: pos, min: yMin, max: yMax,
    axisLine: {show: true, onZero: false, lineStyle: {color: AX, width: 1}},
    axisTick: {show: true, inside: true, length: 10, customValues: yTicks, lineStyle: {color: AX}},
    axisLabel: main ? {show: true, customValues: yTicks, color: '#333', fontSize: 10.5, margin: 5, fontFamily: FONT} : {show: false},
    splitLine: {show: main, lineStyle: {color: GRIDC, width: 1}},
    name: main ? yName : '', nameLocation: 'middle', nameGap: 27, nameRotate: 90, nameMoveOverlap: false,
    nameTextStyle: {fontSize: 15.5, color: '#262626', fontFamily: FONT}
  };
}
const lineIcon = 'path://M0,6.6 L28,6.6 L28,7.4 L0,7.4 Z M0,0 M28,14';
const dotIcon = 'path://M0,0 M28,14 M12.5,7 A1.5,1.5 0 1 1 15.5,7 A1.5,1.5 0 1 1 12.5,7 Z';

chart.setOption({
  animation: false,
  backgroundColor: '#fff',
  title: {
    text: titleText, left: 578, top: 7, textAlign: 'center', padding: 0,
    textStyle: {fontSize: 15.5, fontWeight: 'bold', color: '#000', fontFamily: FONT}
  },
  grid: {left: 53, right: -5, top: 27.5, bottom: 37, containLabel: false, outerBoundsMode: 'none'},
  xAxis: [xAxisDef('bottom', true), xAxisDef('top', false)],
  yAxis: [yAxisDef('left', true), yAxisDef('right', false)],
  legend: {
    orient: 'vertical', right: 3, top: 37, itemWidth: 28, itemHeight: 14, itemGap: 3,
    padding: [3, 2, 2, 4], borderColor: '#a8a8a8', borderWidth: 1, borderRadius: 0, backgroundColor: '#fff',
    textStyle: {fontSize: 16, color: '#000', fontFamily: FONT},
    data: [
      {name: seriesNames[0], icon: lineIcon, itemStyle: {borderWidth: 0}},
      {name: seriesNames[1], icon: lineIcon, itemStyle: {borderWidth: 0}},
      {name: seriesNames[2], icon: dotIcon, itemStyle: {borderWidth: 0}}
    ]
  },
  series: [
    {type: 'line', name: seriesNames[0], data: okumuraHata, xAxisIndex: 0, yAxisIndex: 0, showSymbol: false, symbol: 'none',
     color: '#0000ff', itemStyle: {color: '#0000ff'}, lineStyle: {width: 0.8, color: '#0000ff'}, z: 2, silent: true},
    {type: 'line', name: seriesNames[1], data: itm, xAxisIndex: 0, yAxisIndex: 0, showSymbol: false, symbol: 'none',
     color: '#ff0000', itemStyle: {color: '#ff0000'}, lineStyle: {width: 0.8, color: '#ff0000'}, z: 3, silent: true},
    {type: 'scatter', name: seriesNames[2], data: medidas, xAxisIndex: 0, yAxisIndex: 0, symbol: 'circle', symbolSize: 3.5,
     itemStyle: {color: '#000'}, z: 4, silent: true}
  ]
});
</script></body></html>
